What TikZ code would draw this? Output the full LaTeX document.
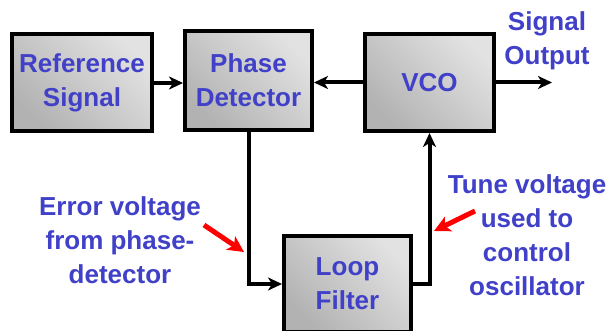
\documentclass[tikz,border=0pt]{standalone}
\usepackage{fontspec}
\setmainfont{Liberation Sans}
\usetikzlibrary{arrows.meta}
\definecolor{txtblue}{RGB}{64,64,200}
\definecolor{boxdark}{RGB}{178,178,178}
\definecolor{boxlight}{RGB}{226,226,226}
\tikzset{
  blockbox/.style={draw=black, line width=4pt, left color=boxdark, right color=boxlight, shading angle=135,
    align=center, text=txtblue, font=\bfseries\fontsize{26}{34}\selectfont, inner sep=0pt},
  conn/.style={line width=4pt, -{Stealth[length=14pt,width=13pt,inset=4pt]}},
  lbl/.style={align=center, text=txtblue, font=\bfseries\fontsize{26}{34}\selectfont, inner sep=0pt},
  redarrow/.style={red, line width=5pt, -{Stealth[length=16pt,width=16pt,inset=4pt]}}
}
\begin{document}
\begin{tikzpicture}[x=1pt,y=-1pt]
\clip (0,0) rectangle (611,331);
\fill[white] (0,0) rectangle (611,331);
\node[blockbox, minimum width=140pt, minimum height=97pt] (ref) at (82,83) {Reference\\Signal};
\node[blockbox, minimum width=127pt, minimum height=99pt] (pd) at (248.5,80.5) {Phase\\Detector};
\node[blockbox, minimum width=129pt, minimum height=97pt] (vco) at (429.5,82.5) {VCO};
\node[blockbox, minimum width=127pt, minimum height=96pt] (lf) at (347.5,284) {Loop\\Filter};
\coordinate (out) at (552,82);
\draw[conn] (ref.east) -- (ref.east -| pd.west);
\draw[conn] (vco.west) -- (vco.west -| pd.east);
\draw[conn] (vco.east) -- (vco.east -| out);
\draw[conn] (pd.south) |- (lf.west);
\draw[conn] (lf.east) -| (vco.south);
\node[lbl] (sigout) at (547,41) {Signal\\Output};
\node[lbl] (err) at (120,240) {Error voltage\\from phase-\\detector};
\node[lbl] (tune) at (527,235) {Tune voltage\\used to\\control\\oscillator};
\coordinate (errtail) at (204,225);
\coordinate (errtip) at (244,252);
\coordinate (tunetail) at (475,211);
\coordinate (tunetip) at (434,231);
\draw[redarrow] (errtail) -- (errtip);
\draw[redarrow] (tunetail) -- (tunetip);
\end{tikzpicture}
\end{document}
